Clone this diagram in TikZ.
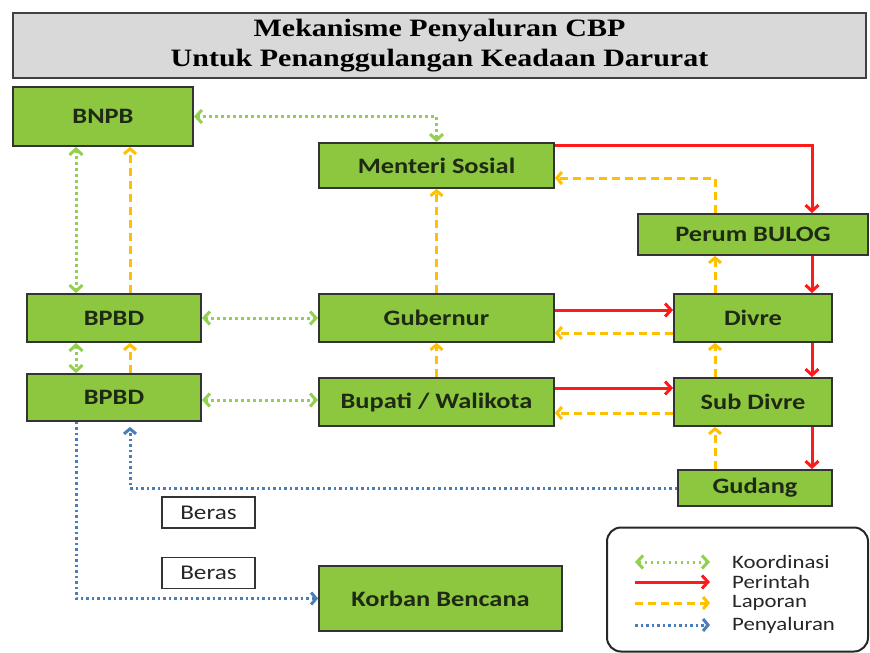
\documentclass[tikz,border=0pt]{standalone}
\usepackage{fontspec}
\setmainfont{Carlito}[FakeStretch=1.2]
\newfontfamily\titlefont{Liberation Serif}[FakeStretch=1.2]
\usetikzlibrary{arrows.meta}
\definecolor{boxgreen}{HTML}{8DC63F}
\definecolor{boxtext}{HTML}{1F2A14}
\definecolor{titlegray}{HTML}{D9D9D9}
\definecolor{koor}{HTML}{92D050}
\definecolor{perin}{HTML}{FF1A1A}
\definecolor{lapor}{HTML}{FFC000}
\definecolor{salur}{HTML}{4A7EBB}

\begin{document}
\begin{tikzpicture}[x=1pt, y=-1pt,
  box/.style={draw=black!80, line width=1.8pt, fill=boxgreen, inner sep=0pt,
    text=boxtext, font=\fontsize{22}{24}\selectfont\bfseries},
  beras/.style={draw=black!80, line width=1.5pt, fill=white, inner sep=0pt,
    minimum width=93pt, minimum height=31pt, text=black!85,
    font=\fontsize{21}{23}\selectfont},
  koordinasi/.style={koor, line width=3pt, dash pattern=on 2.5pt off 3.5pt,
    {Straight Barb[length=6pt,width=13pt]}-{Straight Barb[length=6pt,width=13pt]}},
  perintah/.style={perin, line width=3pt, -{Straight Barb[length=6pt,width=13pt]}},
  laporan/.style={lapor, line width=3pt, dash pattern=on 8pt off 5pt,
    -{Straight Barb[length=5pt,width=12pt]}},
  penyaluran/.style={salur, line width=3pt, dash pattern=on 2.5pt off 3pt,
    -{Straight Barb[length=5pt,width=12pt]}},
  legtext/.style={anchor=west, inner sep=0pt, text=black!85,
    font=\fontsize{19}{21}\selectfont}]

\useasboundingbox[fill=white] (0,0) rectangle (870,653);

% judul
\node[draw=black!75, line width=2pt, fill=titlegray, minimum width=853pt,
  minimum height=65pt, align=center,
  font=\titlefont\bfseries\fontsize{25}{30}\selectfont] (judul) at (439.5,45.5)
  {Mekanisme Penyaluran CBP\\Untuk Penanggulangan Keadaan Darurat};

\node[box, minimum width=180pt, minimum height=59pt] (bnpb) at (103,116.5) {BNPB};
\node[box, minimum width=235pt, minimum height=45pt] (mensos) at (436.5,165.5) {Menteri Sosial};
\node[box, minimum width=230pt, minimum height=41pt] (bulog) at (753,234.5) {Perum BULOG};
\node[box, minimum width=174pt, minimum height=48pt] (bpbd1) at (114,318) {BPBD};
\node[box, minimum width=235pt, minimum height=48pt] (gub) at (436.5,318) {Gubernur};
\node[box, minimum width=158pt, minimum height=48pt] (divre) at (753,318) {Divre};
\node[box, minimum width=174pt, minimum height=47pt] (bpbd2) at (114,397.5) {BPBD};
\node[box, minimum width=235pt, minimum height=48pt] (bupati) at (436.5,402) {Bupati / Walikota};
\node[box, minimum width=158pt, minimum height=48pt] (subdivre) at (753,402) {Sub Divre};
\node[box, minimum width=154pt, minimum height=36pt] (gudang) at (755,488) {Gudang};
\node[box, minimum width=243pt, minimum height=65pt] (korban) at (440.5,598.5) {Korban Bencana};
\node[beras] (beras1) at (208.5,512.5) {Beras};
\node[beras] (beras2) at (208.5,573) {Beras};

% jalur vertikal
\coordinate (xa) at (76,0);
\coordinate (xb) at (130,0);
\coordinate (xd) at (715,0);
\coordinate (xe) at (812,0);

% koordinasi
\draw[koordinasi] (bnpb.east) -- (bnpb.east -| mensos.north) -- (mensos.north);
\draw[koordinasi] (bnpb.south -| xa) -- (bpbd1.north -| xa);
\draw[koordinasi] (bpbd1.south -| xa) -- (bpbd2.north -| xa);
\draw[koordinasi] (bpbd1.east) -- (gub.west);
\draw[koordinasi] ([yshift=-2.5pt]bpbd2.east) -- ([yshift=-2.5pt]bpbd2.east -| bupati.west);

% perintah
\draw[perintah] ([yshift=20pt]mensos.east) -| (bulog.north -| xe);
\draw[perintah] (bulog.south -| xe) -- (divre.north -| xe);
\draw[perintah] (divre.south -| xe) -- (subdivre.north -| xe);
\draw[perintah] (subdivre.south -| xe) -- (gudang.north -| xe);
\draw[perintah] ([yshift=8pt]gub.east) -- ([yshift=8pt]divre.west);
\draw[perintah] ([yshift=14pt]bupati.east) -- ([yshift=14pt]subdivre.west);

% laporan
\draw[laporan] (bpbd1.north -| xb) -- (bnpb.south -| xb);
\draw[laporan] (bpbd2.north -| xb) -- (bpbd1.south -| xb);
\draw[laporan] (gub.north) -- (mensos.south);
\draw[laporan] (bupati.north) -- (gub.south);
\draw[laporan] (bulog.north -| xd) |- ([yshift=-12.5pt]mensos.east);
\draw[laporan] (divre.north -| xd) -- (bulog.south -| xd);
\draw[laporan] (subdivre.north -| xd) -- (divre.south -| xd);
\draw[laporan] (gudang.north -| xd) -- (subdivre.south -| xd);
\draw[laporan] ([yshift=-15pt]divre.west) -- ([yshift=-15pt]gub.east);
\draw[laporan] ([yshift=-11pt]subdivre.west) -- ([yshift=-11pt]bupati.east);

% penyaluran
\draw[penyaluran, shorten >=5pt] (gudang.west) -| (bpbd2.south -| xb);
\draw[penyaluran] (bpbd2.south -| xa) |- (korban.west);

% keterangan
\node[draw=black!85, line width=2pt, rounded corners=14pt, minimum width=261pt,
  minimum height=124pt] (legenda) at (737.5,589.5) {};
\coordinate (k1) at (635,562);  \coordinate (k2) at (710,562);
\coordinate (p1) at (635,582);  \coordinate (p2) at (710,582);
\coordinate (l1) at (635,603);  \coordinate (l2) at (710,603);
\coordinate (s1) at (635,625);  \coordinate (s2) at (710,625);
\draw[koordinasi] (k1) -- (k2);
\draw[perintah] (p1) -- (p2);
\draw[laporan] (l1) -- (l2);
\draw[penyaluran] (s1) -- (s2);
\node[legtext] (tk) at (732,562) {Koordinasi};
\node[legtext] (tp) at (732,582) {Perintah};
\node[legtext] (tl) at (732,603) {Laporan};
\node[legtext] (ts) at (732,625) {Penyaluran};
\end{tikzpicture}
\end{document}
